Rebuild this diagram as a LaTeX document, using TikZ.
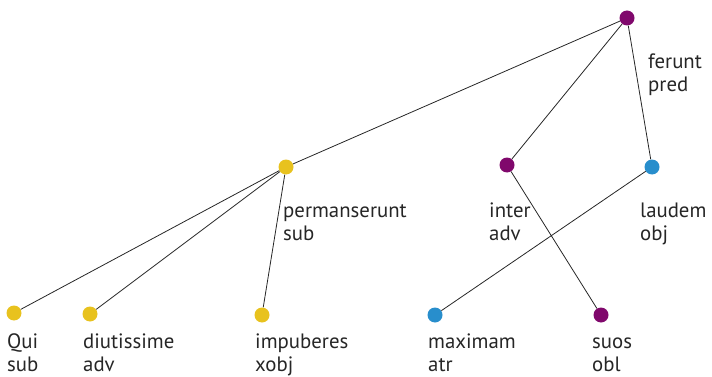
\documentclass[tikz,border=0pt]{standalone}
\usepackage{fontspec}
\setmainfont{PT Sans}
\definecolor{wpurple}{RGB}{128,8,108}
\definecolor{wyellow}{RGB}{232,194,30}
\definecolor{wblue}{RGB}{40,142,204}
\tikzset{
  dot/.style={circle, inner sep=0pt, minimum size=15pt},
  pdot/.style={dot, fill=wpurple},
  ydot/.style={dot, fill=wyellow},
  bdot/.style={dot, fill=wblue},
  word/.style={anchor=base west, inner sep=0pt, font=\fontsize{20.8}{23}\selectfont, text=black!85},
  link/.style={draw=black!85, line width=0.8pt}
}
\newcommand{\twoline}[2]{\begin{tabular}[t]{@{}l@{}}#1\\#2\end{tabular}}
\begin{document}
\begin{tikzpicture}[x=1pt, y=-1pt]
\useasboundingbox (0,0) rectangle (712,377);
% tokens
\node[pdot] (ferunt) at (627,18) {};
\node[ydot] (perm) at (286,167) {};
\node[pdot] (inter) at (507,165) {};
\node[bdot] (laudem) at (652,167) {};
\node[ydot] (qui) at (14,313) {};
\node[ydot] (diu) at (90,314) {};
\node[ydot] (imp) at (262,315) {};
\node[bdot] (max) at (435,315) {};
\node[pdot] (suos) at (601,315) {};
% dependencies
\draw[link] (ferunt) -- (perm);
\draw[link] (ferunt) -- (inter);
\draw[link] (ferunt) -- (laudem);
\draw[link] (perm) -- (qui);
\draw[link] (perm) -- (diu);
\draw[link] (perm) -- (imp);
\draw[link] (inter) -- (suos);
\draw[link] (laudem) -- (max);
% word / relation labels
\node[word] (lferunt) at (648,69) {\twoline{ferunt}{pred}};
\node[word] (lperm) at (283,217) {\twoline{permanserunt}{sub}};
\node[word] (linter) at (489,217) {\twoline{inter}{adv}};
\node[word] (llaudem) at (640,217) {\twoline{laudem}{obj}};
\node[word] (lqui) at (7,348) {\twoline{Qui}{sub}};
\node[word] (ldiu) at (83,348) {\twoline{diutissime}{adv}};
\node[word] (limp) at (255,348) {\twoline{impuberes}{xobj}};
\node[word] (lmax) at (428,348) {\twoline{maximam}{atr}};
\node[word] (lsuos) at (592,348) {\twoline{suos}{obl}};
\end{tikzpicture}
\end{document}
